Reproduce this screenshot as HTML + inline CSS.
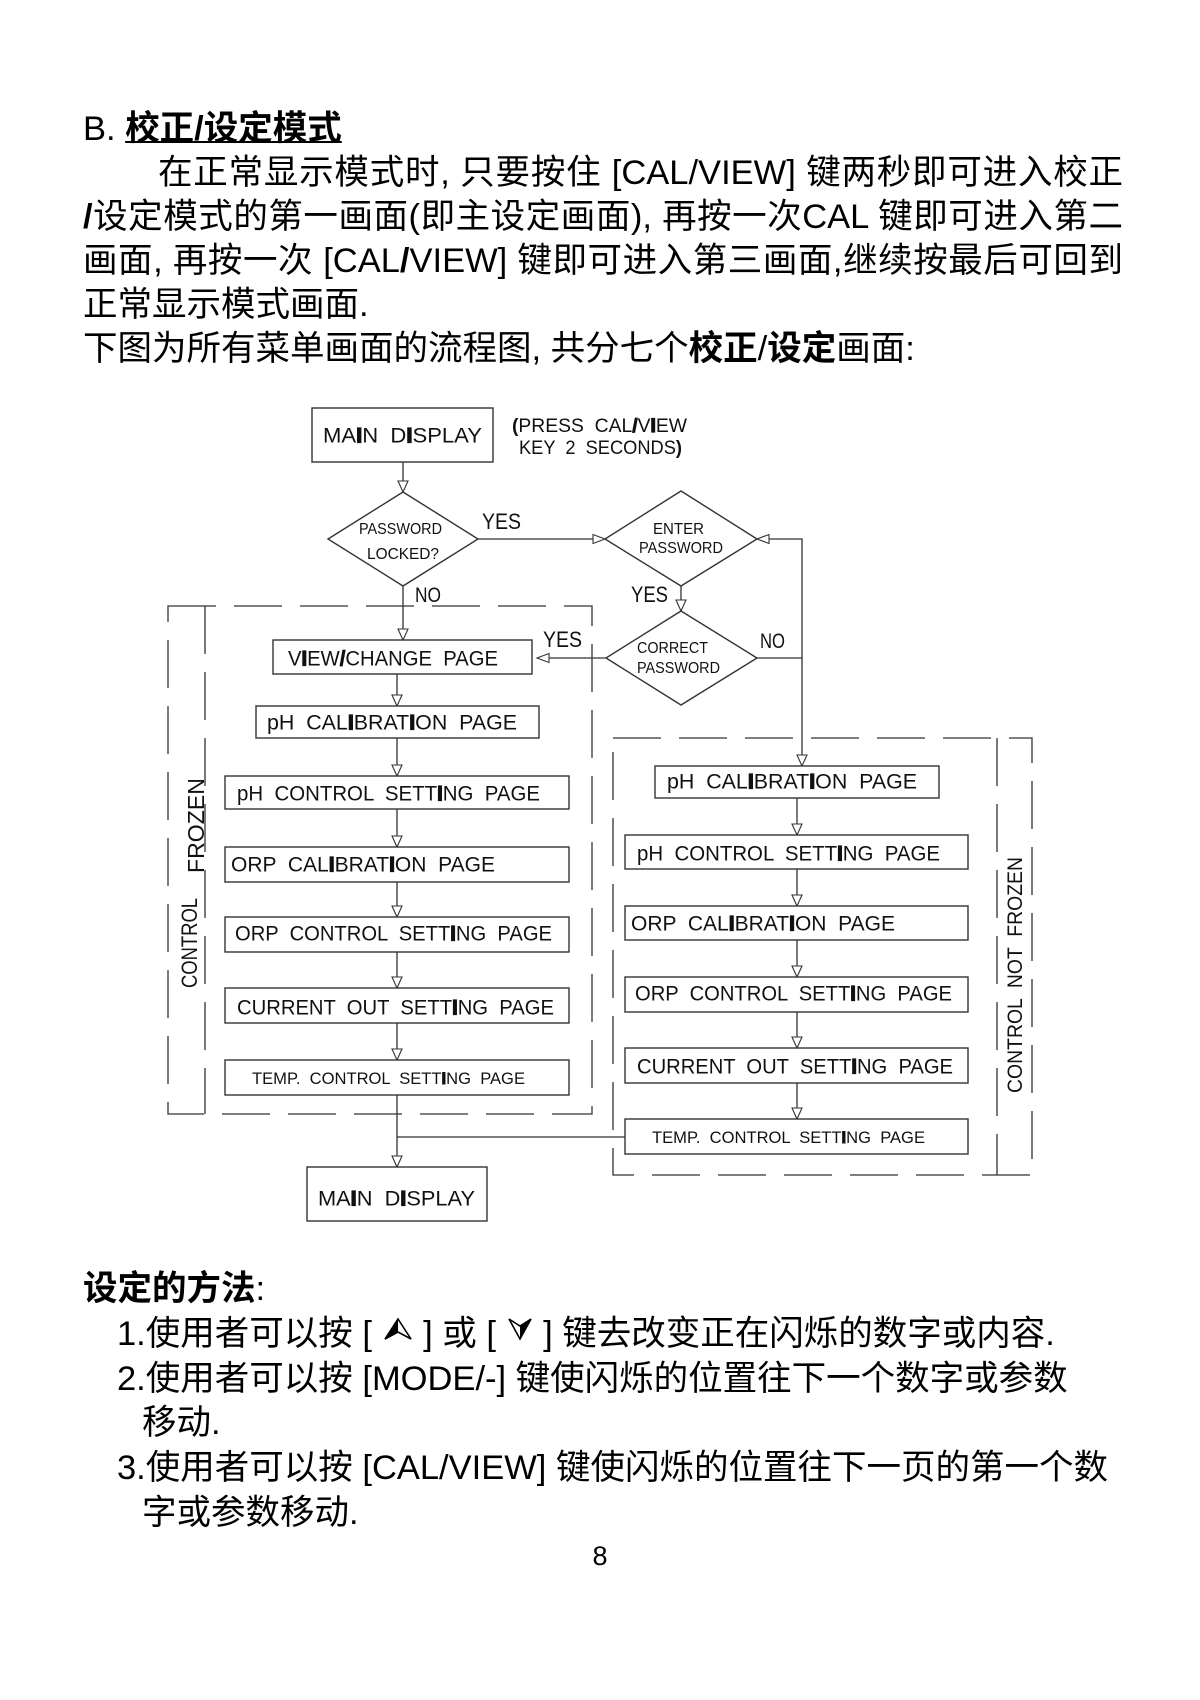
<!DOCTYPE html>
<html><head><meta charset="utf-8">
<style>
html,body{margin:0;padding:0;background:#fff;}
body{width:1200px;height:1700px;position:relative;overflow:hidden;}
.l{position:absolute;font-family:"Liberation Sans","Noto Sans CJK SC",sans-serif;font-size:34.5px;line-height:44px;color:#000;white-space:nowrap;}
.j{text-align:justify;text-align-last:justify;white-space:normal;}
b{font-weight:bold;}
.u{text-decoration:underline;text-decoration-thickness:2px;}
svg.d{position:absolute;left:0;top:0;}
svg.d text{font-family:"Liberation Sans",sans-serif;fill:#111;white-space:pre;}
.sym{display:inline-block;vertical-align:4px;}
</style></head>
<body>

<div class="l" style="left:83px;top:107px;">B. <b class="u">校正/设定模式</b></div>
<div class="l j" style="left:158px;top:151px;width:965px;">在正常显示模式时, 只要按住 [CAL/VIEW] 键两秒即可进入校正</div>
<div class="l j" style="left:83px;top:195px;width:1040px;"><b>/</b>设定模式的第一画面(即主设定画面), 再按一次CAL 键即可进入第二</div>
<div class="l j" style="left:83px;top:239px;width:1040px;">画面, 再按一次 [CAL<b>/</b>VIEW] 键即可进入第三画面,继续按最后可回到</div>
<div class="l" style="left:83px;top:283px;">正常显示模式画面.</div>
<div class="l" style="left:83px;top:327px;">下图为所有菜单画面的流程图, 共分七个<b>校正</b>/<b>设定</b>画面:</div>

<svg class="d" width="1200" height="1700" viewBox="0 0 1200 1700" xmlns="http://www.w3.org/2000/svg">
  <!-- dashed groups -->
  <g fill="none" stroke="#333" stroke-width="1.3" stroke-dasharray="48 18">
    <rect x="168" y="606" width="424" height="508"/>
    <line x1="205" y1="606" x2="205" y2="1114"/>
    <rect x="613" y="738" width="419" height="437"/>
    <line x1="997" y1="738" x2="997" y2="1175"/>
  </g>
  <!-- connectors -->
  <g fill="none" stroke="#333" stroke-width="1.3">
    <line x1="403" y1="462" x2="403" y2="492"/>
    <line x1="478" y1="539" x2="605" y2="539"/>
    <line x1="403" y1="586" x2="403" y2="640"/>
    <line x1="681" y1="586" x2="681" y2="611"/>
    <line x1="606" y1="658" x2="537" y2="658"/>
    <polyline points="757,658 802,658 802,539 767,539"/>
    <line x1="802" y1="658" x2="802" y2="766"/>
    <line x1="397" y1="674" x2="397" y2="706"/>
    <line x1="397" y1="738" x2="397" y2="776"/>
    <line x1="397" y1="809" x2="397" y2="847"/>
    <line x1="397" y1="882" x2="397" y2="917"/>
    <line x1="397" y1="952" x2="397" y2="988"/>
    <line x1="397" y1="1023" x2="397" y2="1060"/>
    <line x1="397" y1="1095" x2="397" y2="1167"/>
    <line x1="397" y1="1137" x2="625" y2="1137"/>
    <line x1="797" y1="798" x2="797" y2="835"/>
    <line x1="797" y1="869" x2="797" y2="906"/>
    <line x1="797" y1="940" x2="797" y2="977"/>
    <line x1="797" y1="1012" x2="797" y2="1048"/>
    <line x1="797" y1="1083" x2="797" y2="1119"/>
  </g>
  <!-- arrowheads -->
  <g fill="#fff" stroke="#333" stroke-width="1.1">
    <polygon points="398,481 408,481 403,492"/>
    <polygon points="398,629 408,629 403,640"/>
    <polygon points="676,600 686,600 681,611"/>
    <polygon points="392,695 402,695 397,706"/>
    <polygon points="392,765 402,765 397,776"/>
    <polygon points="392,836 402,836 397,847"/>
    <polygon points="392,906 402,906 397,917"/>
    <polygon points="392,977 402,977 397,988"/>
    <polygon points="392,1049 402,1049 397,1060"/>
    <polygon points="392,1156 402,1156 397,1167"/>
    <polygon points="797,755 807,755 802,766"/>
    <polygon points="792,824 802,824 797,835"/>
    <polygon points="792,895 802,895 797,906"/>
    <polygon points="792,966 802,966 797,977"/>
    <polygon points="792,1037 802,1037 797,1048"/>
    <polygon points="792,1108 802,1108 797,1119"/>
    <polygon points="593,534.5 593,543.5 605,539"/>
    <polygon points="769,534.5 769,543.5 757,539"/>
    <polygon points="549,653.5 549,662.5 537,658"/>
  </g>
  <!-- boxes and diamonds -->
  <g fill="#fff" stroke="#333" stroke-width="1.4">
    <rect x="312" y="408" width="181" height="54"/>
    <polygon points="403,492 478,539 403,586 328,539"/>
    <polygon points="681,491 757,539 681,586 605,539"/>
    <polygon points="681,611 757,658 681,705 606,658"/>
    <rect x="273" y="640" width="259" height="34"/>
    <rect x="256" y="706" width="283" height="32"/>
    <rect x="225" y="776" width="344" height="33"/>
    <rect x="225" y="847" width="344" height="35"/>
    <rect x="225" y="917" width="344" height="35"/>
    <rect x="225" y="988" width="344" height="35"/>
    <rect x="225" y="1060" width="344" height="35"/>
    <rect x="307" y="1167" width="180" height="54"/>
    <rect x="655" y="766" width="284" height="32"/>
    <rect x="625" y="835" width="343" height="34"/>
    <rect x="625" y="906" width="343" height="34"/>
    <rect x="625" y="977" width="343" height="35"/>
    <rect x="625" y="1048" width="343" height="35"/>
    <rect x="625" y="1119" width="343" height="35"/>
  </g>
  <!-- labels -->
  <text x="323" y="442.5" font-size="21" textLength="159" lengthAdjust="spacingAndGlyphs">MA<tspan font-weight="bold" stroke="#111" stroke-width="1.2">I</tspan>N  D<tspan font-weight="bold" stroke="#111" stroke-width="1.2">I</tspan>SPLAY</text>
  <text x="512" y="432" font-size="19" textLength="175" lengthAdjust="spacingAndGlyphs"><tspan font-weight="bold">(</tspan>PRESS  CAL<tspan font-weight="bold" stroke="#111" stroke-width="0.8">/</tspan>V<tspan font-weight="bold" stroke="#111" stroke-width="1.2">I</tspan>EW</text>
  <text x="519" y="454" font-size="19" textLength="163" lengthAdjust="spacingAndGlyphs">KEY  2  SECONDS<tspan font-weight="bold">)</tspan></text>

  <text x="359" y="534" font-size="16" textLength="83" lengthAdjust="spacingAndGlyphs">PASSWORD</text>
  <text x="367" y="559" font-size="16" textLength="72" lengthAdjust="spacingAndGlyphs">LOCKED?</text>
  <text x="482" y="529" font-size="22" textLength="39" lengthAdjust="spacingAndGlyphs">YES</text>
  <text x="415" y="602" font-size="21" textLength="26" lengthAdjust="spacingAndGlyphs">NO</text>

  <text x="653" y="534" font-size="16" textLength="51" lengthAdjust="spacingAndGlyphs">ENTER</text>
  <text x="639" y="553" font-size="16" textLength="84" lengthAdjust="spacingAndGlyphs">PASSWORD</text>
  <text x="631" y="602" font-size="22" textLength="37" lengthAdjust="spacingAndGlyphs">YES</text>
  <text x="637" y="653" font-size="16" textLength="71" lengthAdjust="spacingAndGlyphs">CORRECT</text>
  <text x="637" y="673" font-size="16" textLength="83" lengthAdjust="spacingAndGlyphs">PASSWORD</text>
  <text x="760" y="648" font-size="21" textLength="25" lengthAdjust="spacingAndGlyphs">NO</text>
  <text x="543" y="647" font-size="22" textLength="39" lengthAdjust="spacingAndGlyphs">YES</text>

  <text x="288" y="665.5" font-size="21" textLength="210" lengthAdjust="spacingAndGlyphs">V<tspan font-weight="bold" stroke="#111" stroke-width="1.2">I</tspan>EW<tspan font-weight="bold" stroke="#111" stroke-width="0.8">/</tspan>CHANGE  PAGE</text>
  <text x="267" y="729.5" font-size="21" textLength="250" lengthAdjust="spacingAndGlyphs">pH  CAL<tspan font-weight="bold" stroke="#111" stroke-width="1.2">I</tspan>BRAT<tspan font-weight="bold" stroke="#111" stroke-width="1.2">I</tspan>ON  PAGE</text>
  <text x="237" y="800.5" font-size="21" textLength="303" lengthAdjust="spacingAndGlyphs">pH  CONTROL  SETT<tspan font-weight="bold" stroke="#111" stroke-width="1.2">I</tspan>NG  PAGE</text>
  <text x="231" y="871.5" font-size="21" textLength="264" lengthAdjust="spacingAndGlyphs">ORP  CAL<tspan font-weight="bold" stroke="#111" stroke-width="1.2">I</tspan>BRAT<tspan font-weight="bold" stroke="#111" stroke-width="1.2">I</tspan>ON  PAGE</text>
  <text x="235" y="940.5" font-size="21" textLength="317" lengthAdjust="spacingAndGlyphs">ORP  CONTROL  SETT<tspan font-weight="bold" stroke="#111" stroke-width="1.2">I</tspan>NG  PAGE</text>
  <text x="237" y="1014.5" font-size="21" textLength="317" lengthAdjust="spacingAndGlyphs">CURRENT  OUT  SETT<tspan font-weight="bold" stroke="#111" stroke-width="1.2">I</tspan>NG  PAGE</text>
  <text x="252" y="1084" font-size="17" textLength="273" lengthAdjust="spacingAndGlyphs">TEMP.  CONTROL  SETT<tspan font-weight="bold" stroke="#111" stroke-width="1">I</tspan>NG  PAGE</text>
  <text x="318" y="1205.5" font-size="21" textLength="157" lengthAdjust="spacingAndGlyphs">MA<tspan font-weight="bold" stroke="#111" stroke-width="1.2">I</tspan>N  D<tspan font-weight="bold" stroke="#111" stroke-width="1.2">I</tspan>SPLAY</text>

  <text x="667" y="788.5" font-size="21" textLength="250" lengthAdjust="spacingAndGlyphs">pH  CAL<tspan font-weight="bold" stroke="#111" stroke-width="1.2">I</tspan>BRAT<tspan font-weight="bold" stroke="#111" stroke-width="1.2">I</tspan>ON  PAGE</text>
  <text x="637" y="860.5" font-size="21" textLength="303" lengthAdjust="spacingAndGlyphs">pH  CONTROL  SETT<tspan font-weight="bold" stroke="#111" stroke-width="1.2">I</tspan>NG  PAGE</text>
  <text x="631" y="930.5" font-size="21" textLength="264" lengthAdjust="spacingAndGlyphs">ORP  CAL<tspan font-weight="bold" stroke="#111" stroke-width="1.2">I</tspan>BRAT<tspan font-weight="bold" stroke="#111" stroke-width="1.2">I</tspan>ON  PAGE</text>
  <text x="635" y="1000.5" font-size="21" textLength="317" lengthAdjust="spacingAndGlyphs">ORP  CONTROL  SETT<tspan font-weight="bold" stroke="#111" stroke-width="1.2">I</tspan>NG  PAGE</text>
  <text x="637" y="1073.5" font-size="21" textLength="316" lengthAdjust="spacingAndGlyphs">CURRENT  OUT  SETT<tspan font-weight="bold" stroke="#111" stroke-width="1.2">I</tspan>NG  PAGE</text>
  <text x="652" y="1143" font-size="17" textLength="273" lengthAdjust="spacingAndGlyphs">TEMP.  CONTROL  SETT<tspan font-weight="bold" stroke="#111" stroke-width="1">I</tspan>NG  PAGE</text>

  <text transform="translate(204,873) rotate(-90)" font-size="23" textLength="95" lengthAdjust="spacingAndGlyphs">FROZEN</text>
  <text transform="translate(197,988) rotate(-90)" font-size="22" textLength="90" lengthAdjust="spacingAndGlyphs">CONTROL</text>
  <text transform="translate(1022,1093) rotate(-90)" font-size="21" textLength="236" lengthAdjust="spacingAndGlyphs">CONTROL  NOT  FROZEN</text>

  <text x="600" y="1565" font-size="27" text-anchor="middle" style="fill:#000">8</text>
</svg>

<div class="l" style="left:83px;top:1267px;"><b>设定的方法</b>:</div>
<div class="l" style="left:117px;top:1312px;">1.使用者可以按 [ <svg class="sym" width="32" height="24" viewBox="0 0 32 24"><polygon points="16,2 29,22 16,15 3,22" fill="#fff" stroke="#000" stroke-width="1.6" stroke-linejoin="miter"/><polygon points="16,2 16,15 3,22" fill="#000"/></svg> ] 或 [ <svg class="sym" width="28" height="24" viewBox="0 0 28 24"><polygon points="3,2 14,9 25,2 14,22" fill="#fff" stroke="#000" stroke-width="1.6"/><polygon points="14,9 25,2 14,22" fill="#000"/></svg> ] 键去改变正在闪烁的数字或内容.</div>
<div class="l" style="left:117px;top:1357px;">2.使用者可以按 [MODE/-] 键使闪烁的位置往下一个数字或参数</div>
<div class="l" style="left:142px;top:1401px;">移动.</div>
<div class="l" style="left:117px;top:1446px;">3.使用者可以按 [CAL/VIEW] 键使闪烁的位置往下一页的第一个数</div>
<div class="l" style="left:142px;top:1491px;">字或参数移动.</div>

</body></html>
